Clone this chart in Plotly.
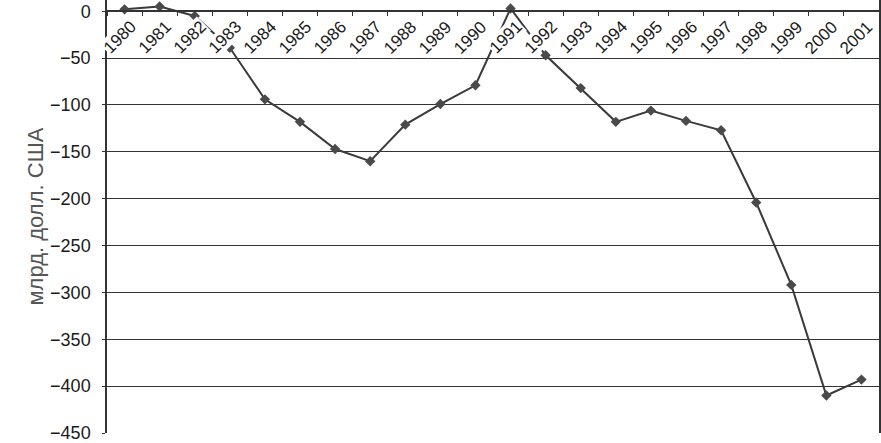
import plotly.graph_objects as go

years = [str(y) for y in range(1980, 2002)]
values = [2, 5, -5, -39, -94, -118, -147, -160, -121, -99, -79, 3,
          -47, -82, -118, -106, -117, -127, -204, -292, -410, -393]
y_ticks = [0, -50, -100, -150, -200, -250, -300, -350, -400, -450]
y_title = "млрд. долл. США"

FONT = "Liberation Sans"

fig = go.Figure()
fig.add_trace(go.Scatter(
    x=years, y=values, mode="lines+markers",
    line=dict(color="#3a3a3a", width=2),
    marker=dict(symbol="diamond", size=8, color="#4a4a4a"),
    cliponaxis=False, hoverinfo="skip",
))

annotations = []
for i, yr in enumerate(years):
    annotations.append(dict(
        x=i, y=0, xref="x", yref="y", text=yr, showarrow=False,
        textangle=-45, xanchor="center", yanchor="middle",
        xshift=-5, yshift=-26, bgcolor="white", borderpad=0,
        font=dict(family=FONT, size=17, color="#1a1a1a"),
    ))
annotations.append(dict(
    x=0, y=0.5, xref="paper", yref="paper", text=y_title, showarrow=False,
    textangle=-90, xanchor="center", yanchor="middle", xshift=-72,
    font=dict(family=FONT, size=22, color="#555"),
))

fig.update_layout(
    width=881, height=443,
    margin=dict(l=107, r=2, t=0, b=10),
    paper_bgcolor="white", plot_bgcolor="white",
    showlegend=False,
    annotations=annotations,
    font=dict(family=FONT, color="#1a1a1a"),
    xaxis=dict(
        type="category", anchor="free", position=450 / 462,
        showline=True, linecolor="#333", linewidth=1.5,
        ticks="outside", tickson="boundaries", ticklen=4, tickcolor="#333",
        showticklabels=False, showgrid=False, zeroline=False,
        range=[-0.5, 21.5], automargin=False,
    ),
    yaxis=dict(
        range=[-450, 12], tickvals=y_ticks, automargin=False,
        ticklabeloverflow="allow",
        showgrid=True, gridcolor="#333", gridwidth=1.2,
        showline=True, mirror=True, linecolor="#333", linewidth=1.5,
        zeroline=False, ticks="outside", ticklen=3, tickcolor="#333",
        ticklabelstandoff=8,
        tickfont=dict(family=FONT, size=18, color="#1a1a1a"),
    ),
)

fig.write_html("out.html", config={"displayModeBar": False},
               post_script="document.body.style.margin='0';")
